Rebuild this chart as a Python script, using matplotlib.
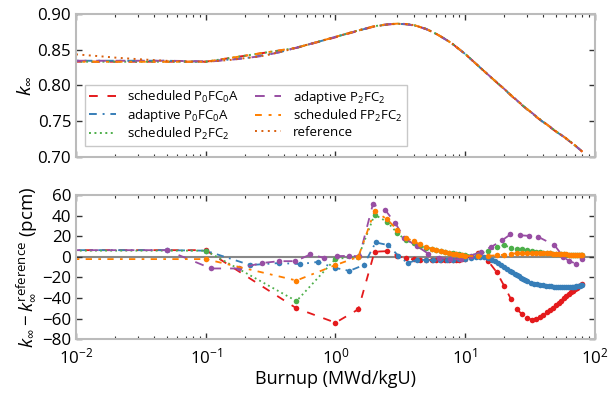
import numpy as np
import matplotlib
matplotlib.use("Agg")
import matplotlib.pyplot as plt

plt.rcParams['font.family'] = ['Open Sans', 'DejaVu Sans']
plt.rcParams['mathtext.fontset'] = 'custom'
plt.rcParams['mathtext.rm'] = 'Open Sans'
plt.rcParams['mathtext.it'] = 'Open Sans:italic'
plt.rcParams['mathtext.bf'] = 'Open Sans:bold'
plt.rcParams['axes.unicode_minus'] = True

# reference k-inf curve (burnup in MWd/kgU)
burnup_ref = [0.01, 0.015, 0.02, 0.03, 0.05, 0.07, 0.1, 0.15, 0.2, 0.26, 0.3, 0.4, 0.5, 0.7,
              1.0, 1.5, 2.0, 2.5, 3.0, 3.5, 4.0, 5.0, 6.0, 7.0, 8.0, 10.0, 12.5, 15.0,
              20.0, 25.0, 30.0, 35.0, 40.0, 50.0, 60.0, 70.0, 80.0]
k_ref = [0.8435, 0.8410, 0.8390, 0.8368, 0.8345, 0.8336, 0.8332, 0.8355, 0.8382, 0.8407,
         0.8427, 0.8480, 0.8530, 0.8600, 0.8680, 0.8770, 0.8825, 0.8852, 0.8862, 0.8858,
         0.8845, 0.8790, 0.8720, 0.8650, 0.8580, 0.8440, 0.8280, 0.8150, 0.7950, 0.7790,
         0.7670, 0.7570, 0.7490, 0.7360, 0.7260, 0.7165, 0.7075]

# scheduled depletion steps
burnup_sched = [0, 0.1, 0.5, 1.0, 1.5, 2.0, 2.5, 3.0, 3.5, 4.0, 4.5, 5.0, 5.5, 6.0, 6.5, 7.0,
                7.5, 8.0, 8.5, 9.0, 9.5, 10.0, 12.5, 15.0, 17.5, 20.0, 22.5, 25.0, 27.5, 30.0,
                32.5, 35.0, 37.5, 40.0, 42.5, 45.0, 47.5, 50.0, 52.5, 55.0, 57.5, 60.0, 62.5,
                65.0, 67.5, 70.0, 72.5, 75.0, 77.5, 80.0]

# k - k_ref in pcm
diff_sched_p0 = [6.5, 6.5, -50, -64, -51, 5, 5.5, 1, -1.5, -2.5, -3, -3, -3, -3.5, -3.5, -3.5,
                 -3.5, -3.5, -3, -3, -2.5, -2, 4, -4, -15, -28.5, -41, -51, -56, -59,
                 -61, -60, -58.5, -56.5, -54, -52, -49.5, -47, -45, -42.5, -40, -38, -36,
                 -34.5, -33, -31.5, -30, -28.5, -27.5, -26]
diff_sched_p2 = [6.5, 6, -43, -2, 0, 41, 34, 23, 16, 13.5, 11, 9, 7.5, 6.5, 5.5, 4.5,
                 4, 3.5, 3, 2.5, 2, 1.5, 2.5, 5.5, 9.5, 11.5, 8.5, 7.5, 7.5, 6.5,
                 5.5, 5, 4.5, 4, 3.5, 3.5, 3, 3, 2.5, 2.5, 2.5, 2, 2,
                 2, 2, 1.5, 1.5, 1.5, 1.5, 1.5]
diff_sched_fp2 = [-2.2, -2.2, -23, -8, 0, 44.5, 36.5, 26, 18.5, 15, 12, 10, 8, 7, 6, 5,
                  4, 3, 2.5, 2, 1.5, 1, 0.5, 1, 1.5, 2, 3, 3.5, 4, 4,
                  4, 4, 4, 3.5, 3.5, 3.5, 3, 3, 3, 2.5, 2.5, 2.5, 2,
                  2, 2, 2, 1.5, 1.5, 1.5, 1.5]

# adaptive steps
burnup_adapt_p0 = [0, 0.05, 0.1, 0.22, 0.37, 0.53, 0.73, 0.99, 1.28, 1.65, 2.04, 2.55, 3.05,
                   3.6, 4.25, 5.0, 5.6, 6.4, 7.2, 8.0, 9.0, 10, 11, 12, 13, 14, 15, 16, 17,
                   18, 19, 20, 21, 22, 23, 24, 25, 26, 27, 28, 29, 30, 32, 34, 36, 38, 40,
                   42, 44, 46, 48, 50, 52, 54, 56, 58, 60, 62, 64, 66, 68, 70, 72, 74, 76,
                   78, 80]
diff_adapt_p0 = [6.5, 6.5, 6, -8, -6, -7, -5, -10.7, -13.6, -8, 14, 11.4, 1,
                 -6, -3, -3, -3.5, -3.5, -3, -3, -2.5, -2, -1, 0, 0, -0.5, -1.5, -3, -4.5,
                 -6, -8, -9.5, -11.5, -13.5, -15, -16.5, -18, -19, -20.5, -21.5, -22.5, -23.5,
                 -25, -26, -26.5, -27, -27.5, -28, -28.5, -28.5, -29, -29, -29.5, -29.5,
                 -29.5, -29.5, -29.5, -29.5, -29.5, -29.5, -29, -29, -28.5, -28.5, -28,
                 -27.5, -27]
burnup_adapt_p2 = [0, 0.05, 0.11, 0.18, 0.27, 0.37, 0.49, 0.64, 0.82, 1.02, 1.28, 1.53, 1.94,
                   2.4, 2.9, 3.4, 4.25, 5.2, 6.3, 7.6, 9.2, 11.0, 13.3, 15.9, 19.2, 22.3,
                   26.3, 30.9, 36.4, 48.7, 57.0, 63.0, 71.0, 79.0]
diff_adapt_p2 = [6.5, 6.5, -11.3, -11.3, -6, -4.2, -4.2, 2.3, -1, 0.7, 1, 0.5, 51,
                 46, 32.5, 18, 10.4, 3, -1, -2, -2.5, 1, 5, 9.7, 16, 21.8,
                 21, 20.4, 19.5, 11.4, 0, -4, -6.5, -2.5]

labels = ['scheduled P$_0$FC$_0$A', 'adaptive P$_0$FC$_0$A', 'scheduled P$_2$FC$_2$',
          'adaptive P$_2$FC$_2$', 'scheduled FP$_2$FC$_2$', 'reference']
colors = ['#e41a1c', '#377eb8', '#4daf4a', '#984ea3', '#ff7f00', '#d95f0e']
dashes = [(4.5, 5), (4, 3, 1, 3), (1, 1.8), (5, 5), (3.5, 3.5, 1.5, 3.5), (1, 2.3)]

series = [(burnup_sched, diff_sched_p0), (burnup_adapt_p0, diff_adapt_p0),
          (burnup_sched, diff_sched_p2), (burnup_adapt_p2, diff_adapt_p2),
          (burnup_sched, diff_sched_fp2)]


def k_of(burnup, diff):
    # method k = reference k at the same burnup + difference
    b = np.log10(np.maximum(np.array(burnup, float), burnup_ref[0]))
    return np.interp(b, np.log10(burnup_ref), k_ref) + np.array(diff) * 1e-5


fig = plt.figure(figsize=(6.08, 3.99), dpi=100)
ax1 = fig.add_axes([0.125, 0.6065, 0.8536, 0.3585])
ax2 = fig.add_axes([0.125, 0.150, 0.8536, 0.3610], sharex=ax1)

ax2.axhline(0, color='#888888', lw=1.5, zorder=1)

for (b, d), lab, c, ds in zip(series, labels, colors, dashes):
    ax1.plot(b, k_of(b, d), color=c, lw=1.4, dashes=ds, label=lab)
    ax2.plot(b, d, color=c, lw=1.3, dashes=ds, marker='o', ms=4, mew=0)
ax1.plot(burnup_ref, k_ref, color=colors[5], lw=1.4, dashes=dashes[5], label=labels[5])

ax1.set_xscale('log')
ax1.set_xlim(1e-2, 1e2)
ax1.set_ylim(0.70, 0.90)
ax1.set_yticks([0.70, 0.75, 0.80, 0.85, 0.90])
ax2.set_ylim(-80, 60)
ax2.set_yticks(range(-80, 61, 20))

for ax in (ax1, ax2):
    for s in ax.spines.values():
        s.set_color('#bbbbbb')
        s.set_linewidth(1.5)
    ax.tick_params(which='both', direction='in', top=True, right=True, labelsize=12.2)
    ax.tick_params(which='major', length=4, width=1, color='#333333')
    ax.tick_params(which='minor', length=2.5, width=0.8, color='#333333')
ax2.tick_params(axis='x', which='major', pad=6)
plt.setp(ax1.get_xticklabels(), visible=False)

ax1.set_ylabel(r'$k_\infty$', fontsize=14)
ax2.set_ylabel(r'$k_\infty - k_\infty^{\rm reference}$ (pcm)', fontsize=13.5, labelpad=2)
ax2.set_xlabel('Burnup (MWd/kgU)', fontsize=13, labelpad=2)
fig.align_ylabels([ax1, ax2])

leg = ax1.legend(loc='lower left', ncol=2, fontsize=9.5, frameon=True, fancybox=False,
                 handlelength=2.0, columnspacing=1.2, borderpad=0.3, labelspacing=0.15,
                 handletextpad=0.9, bbox_to_anchor=(0.005, 0.03))
leg.get_frame().set_edgecolor('#bbbbbb')
leg.get_frame().set_linewidth(1.0)

fig.savefig('out.png', dpi=100)
